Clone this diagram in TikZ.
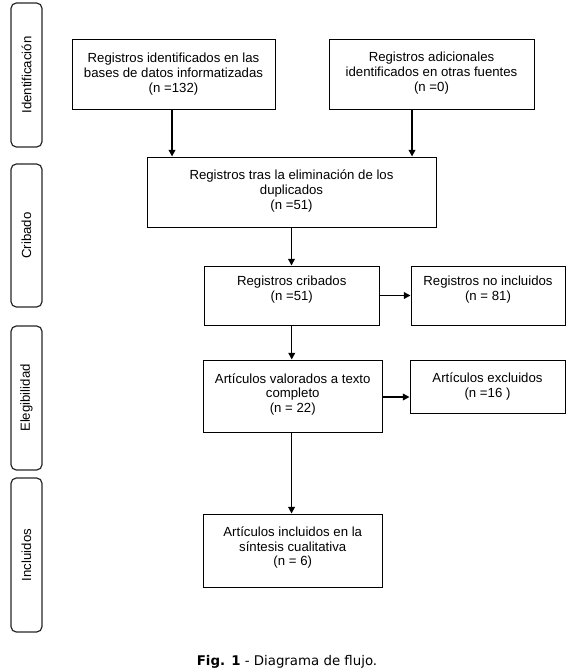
\documentclass[tikz,border=0pt]{standalone}
\usepackage{fontspec}
\setmainfont{Liberation Sans}
\newfontfamily\capfont{DejaVu Sans}
\usetikzlibrary{fit,arrows.meta}
\begin{document}
\begin{tikzpicture}[x=0.75pt,y=-0.75pt,
  box/.style={draw=black,line width=0.75pt,inner sep=0pt},
  phase/.style={draw=black!85,line width=0.9pt,rounded corners=4pt,inner sep=0pt},
  txt/.style={align=center,inner sep=0pt,font=\fontsize{9.9}{11.1}\selectfont},
  ptxt/.style={rotate=90,inner sep=0pt,font=\fontsize{9.9}{11.1}\selectfont},
  arr/.style={line width=1.1pt,-{Triangle[length=5pt,width=5pt]}}]
\useasboundingbox (0,0) rectangle (575,672);
% phase labels
\node[phase,fit={(11,3) (42,147)}] (p1) {};
\node[phase,fit={(11,164) (42,307)}] (p2) {};
\node[phase,fit={(11,326) (42,470)}] (p3) {};
\node[phase,fit={(11,478) (42,632)}] (p4) {};
\node[ptxt] (p1t) at (26.5,75) {Identificación};
\node[ptxt] (p2t) at (26.5,235.5) {Cribado};
\node[ptxt] (p3t) at (26.5,398) {Elegibilidad};
\node[ptxt] (p4t) at (26.5,555) {Incluidos};
% boxes
\node[box,fit={(72,39) (275,109)}] (b1) {};
\node[box,fit={(329,39) (534,109)}] (b2) {};
\node[box,fit={(147,157) (436,227)}] (b3) {};
\node[box,fit={(204,266) (379.5,325)}] (b4) {};
\node[box,fit={(411,266) (565,325)}] (b5) {};
\node[box,fit={(203,360) (382.5,432)}] (b6) {};
\node[box,fit={(410,360) (565,413)}] (b7) {};
\node[box,fit={(203,514) (382.5,587)}] (b8) {};
% texts
\node[txt] (t1) at (173.5,74) {Registros identificados en las\\bases de datos informatizadas\\(n =132)};
\node[txt] (t2) at (431.5,73) {Registros adicionales\\identificados en otras fuentes\\(n =0)};
\node[txt] (t3) at (291.5,191) {Registros tras la eliminación de los\\duplicados\\(n =51)};
\node[txt] (t4) at (291.75,289.5) {Registros cribados\\(n =51)};
\node[txt] (t5) at (488,289.5) {Registros no incluidos\\(n = 81)};
\node[txt] (t6) at (292.75,394.5) {Artículos valorados a texto\\completo\\(n = 22)};
\node[txt] (t7) at (487.5,386.5) {Artículos excluidos\\(n =16 )};
\node[txt] (t8) at (292.75,547.5) {Artículos incluidos en la\\síntesis cualitativa\\(n = 6)};
% connectors
\draw[arr] ([xshift=-1.1pt]b1.south) -- ([xshift=-1.1pt]b1.south |- b3.north);
\draw[arr] ([xshift=-14.6pt]b2.south) -- ([xshift=-14.6pt]b2.south |- b3.north);
\draw[arr] (b3.south) -- (b3.south |- b4.north);
\draw[arr] (b4.east) -- (b5.west);
\draw[arr] (b4.south) -- (b4.south |- b6.north);
\draw[arr] ([yshift=-0.75pt]b6.east) -- ([yshift=-0.75pt]b6.east -| b7.west);
\draw[arr] ([xshift=-0.9pt]b6.south) -- ([xshift=-0.9pt]b6.south |- b8.north);
% caption
\node[anchor=base,inner sep=0pt,font=\capfont\fontsize{10}{12}\selectfont] (cap) at (287,665) {\textbf{Fig. 1} - Diagrama de flujo.};
\end{tikzpicture}
\end{document}
